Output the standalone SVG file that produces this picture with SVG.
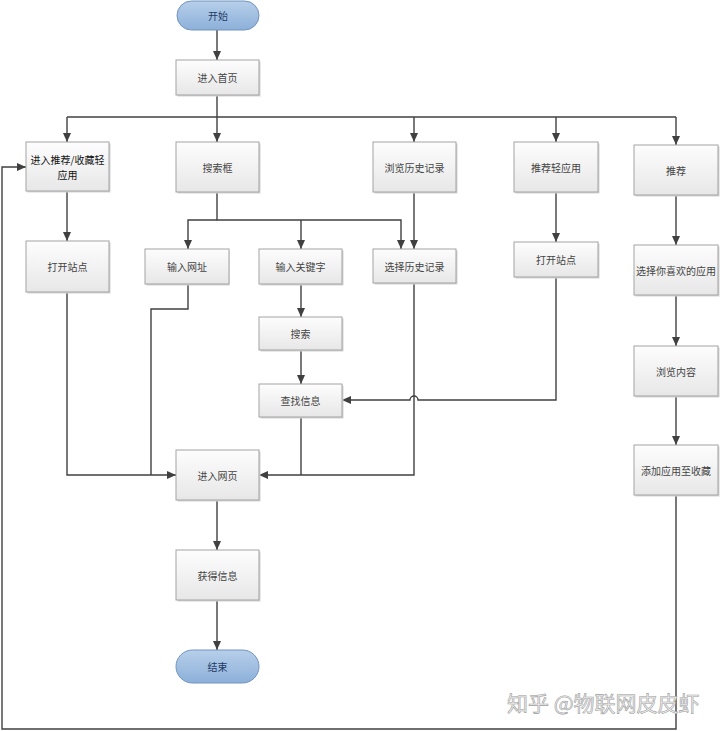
<svg xmlns="http://www.w3.org/2000/svg" width="720" height="731" viewBox="0 0 720 731">
<style>
.box rect.b{fill:url(#gBox);stroke:#a3a3a3;stroke-width:1}
.box rect.s{fill:#d4d4d4}
.pill rect.b{fill:url(#gPill);stroke:#7393bd;stroke-width:1}
text{font-family:"Noto Sans CJK SC","Noto Sans",sans-serif;font-size:10px;fill:#444;text-anchor:middle;dominant-baseline:central}
.pill text{fill:#1f3a66}
.dark{fill:#111;font-size:10px}
#connectors path{fill:none;stroke:#404040;stroke-width:1.4}
#connectors path.a{marker-end:url(#arr)}
.wm{font-size:21px;fill:#f0f0f0;stroke:#a0a0a0;stroke-width:0.6;text-anchor:start;dominant-baseline:auto}
</style>
<defs>
<linearGradient id="gBox" x1="0" y1="0" x2="0" y2="1">
<stop offset="0" stop-color="#fdfdfd"/>
<stop offset="1" stop-color="#e7e7e7"/>
</linearGradient>
<linearGradient id="gPill" x1="0" y1="0" x2="0" y2="1">
<stop offset="0" stop-color="#b7cfea"/>
<stop offset="1" stop-color="#8cb0d9"/>
</linearGradient>
<marker id="arr" markerUnits="userSpaceOnUse" markerWidth="9" markerHeight="8" viewBox="0 0 9 8" refX="9" refY="4" orient="auto">
<path d="M0,0 L9,4 L0,8 z" fill="#404040"/>
</marker>
</defs>
<rect width="720" height="731" fill="#ffffff"/>

<g id="connectors">
<path class="a" d="M217,30 V60"/>
<path class="a" d="M217,95 V142"/>
<path d="M67,117 H676"/>
<path class="a" d="M67,117 V142"/>
<path class="a" d="M414,117 V142"/>
<path class="a" d="M556,117 V142"/>
<path class="a" d="M676,117 V145"/>
<path class="a" d="M67,191 V241"/>
<path class="a" d="M217,192 V220 H401 V249"/>
<path class="a" d="M217,220 H188 V249"/>
<path class="a" d="M301,220 V249"/>
<path class="a" d="M414,192 V249"/>
<path class="a" d="M556,192 V242"/>
<path class="a" d="M676,195 V245"/>
<path class="a" d="M676,295 V346"/>
<path class="a" d="M676,396 V445"/>
<path class="a" d="M67,292 V475 H176"/>
<path d="M188,284 V309 H151 V475"/>
<path class="a" d="M301,284 V317"/>
<path class="a" d="M301,350 V384"/>
<path d="M301,417 V475"/>
<path class="a" d="M414,283 V475 H259"/>
<path class="a" d="M556,277 V400 H418 A4,4 0 0 0 410,400 H342"/>
<path class="a" d="M217,500 V550"/>
<path class="a" d="M217,600 V650"/>
<path class="a" d="M676,495 V729 H2 V167 H26"/>
</g>

<g id="start" class="pill"><rect class="b" x="177" y="1" width="82" height="29" rx="14.5"/><text x="218" y="15.5">开始</text></g>
<g id="home" class="box"><rect class="s" x="177.5" y="61.5" width="83" height="35"/><rect class="b" x="176" y="60" width="83" height="35"/><text x="217.5" y="77.5">进入首页</text></g>
<g id="recfav" class="box"><rect class="s" x="27.5" y="143.5" width="83" height="49"/><rect class="b" x="26" y="142" width="83" height="49"/><text class="dark" x="67.5" y="159">进入推荐/收藏轻</text><text class="dark" x="67.5" y="174">应用</text></g>
<g id="searchbox" class="box"><rect class="s" x="177.5" y="143.5" width="83" height="50"/><rect class="b" x="176" y="142" width="83" height="50"/><text x="217.5" y="167">搜索框</text></g>
<g id="history" class="box"><rect class="s" x="374.5" y="143.5" width="83" height="50"/><rect class="b" x="373" y="142" width="83" height="50"/><text x="414.5" y="167">浏览历史记录</text></g>
<g id="recapp" class="box"><rect class="s" x="515.5" y="143.5" width="84" height="50"/><rect class="b" x="514" y="142" width="84" height="50"/><text x="556" y="167">推荐轻应用</text></g>
<g id="rec" class="box"><rect class="s" x="635.5" y="146.5" width="84" height="50"/><rect class="b" x="634" y="145" width="84" height="50"/><text x="676" y="170">推荐</text></g>
<g id="open1" class="box"><rect class="s" x="27.5" y="242.5" width="83" height="51"/><rect class="b" x="26" y="241" width="83" height="51"/><text x="67.5" y="266.5">打开站点</text></g>
<g id="url" class="box"><rect class="s" x="146.5" y="250.5" width="83" height="35"/><rect class="b" x="145" y="249" width="84" height="35"/><text x="187" y="266.5">输入网址</text></g>
<g id="keyword" class="box"><rect class="s" x="260.5" y="250.5" width="83" height="35"/><rect class="b" x="259" y="249" width="83" height="35"/><text x="300.5" y="266.5">输入关键字</text></g>
<g id="pickhist" class="box"><rect class="s" x="374.5" y="250.5" width="83" height="34"/><rect class="b" x="373" y="249" width="83" height="34"/><text x="414.5" y="266">选择历史记录</text></g>
<g id="open2" class="box"><rect class="s" x="515.5" y="243.5" width="84" height="35"/><rect class="b" x="514" y="242" width="84" height="35"/><text x="556" y="259.5">打开站点</text></g>
<g id="pickapp" class="box"><rect class="s" x="635.5" y="246.5" width="84" height="50"/><rect class="b" x="634" y="245" width="84" height="50"/><text x="676" y="270">选择你喜欢的应用</text></g>
<g id="search" class="box"><rect class="s" x="260.5" y="318.5" width="83" height="33"/><rect class="b" x="259" y="317" width="83" height="33"/><text x="300.5" y="333.5">搜索</text></g>
<g id="browse" class="box"><rect class="s" x="635.5" y="347.5" width="84" height="50"/><rect class="b" x="634" y="346" width="84" height="50"/><text x="676" y="371">浏览内容</text></g>
<g id="find" class="box"><rect class="s" x="260.5" y="385.5" width="83" height="33"/><rect class="b" x="259" y="384" width="83" height="33"/><text x="300.5" y="400.5">查找信息</text></g>
<g id="addfav" class="box"><rect class="s" x="635.5" y="446.5" width="84" height="50"/><rect class="b" x="634" y="445" width="84" height="50"/><text x="676" y="470">添加应用至收藏</text></g>
<g id="webpage" class="box"><rect class="s" x="177.5" y="451.5" width="83" height="50"/><rect class="b" x="176" y="450" width="83" height="50"/><text x="217.5" y="475">进入网页</text></g>
<g id="getinfo" class="box"><rect class="s" x="177.5" y="551.5" width="83" height="50"/><rect class="b" x="176" y="550" width="83" height="50"/><text x="217.5" y="575">获得信息</text></g>
<g id="end" class="pill"><rect class="b" x="176" y="650" width="83" height="33" rx="16.5"/><text x="217.5" y="666.5">结束</text></g>

<text class="wm" x="507" y="711">知乎 @物联网皮皮虾</text>
</svg>
